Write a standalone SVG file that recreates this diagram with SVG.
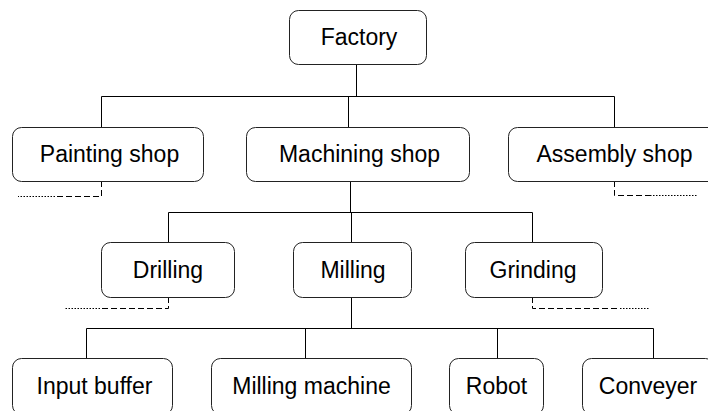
<svg xmlns="http://www.w3.org/2000/svg" width="708" height="411" viewBox="0 0 708 411">
<style>
.box{fill:#fff;stroke:#222;stroke-width:1}
.lbl{font-family:"Liberation Sans",Arial,sans-serif;font-size:23px;fill:#000;text-anchor:middle}
.ln{stroke:#000;stroke-width:1;fill:none}
.dash{stroke:#000;stroke-width:1;fill:none;stroke-dasharray:6 3}
.dot{stroke:#000;stroke-width:1;fill:none;stroke-dasharray:1.5 1.5}
</style>
<rect width="708" height="411" fill="#fff"/>
<g id="connectors">
<path class="ln" d="M356.5 64V96.5M101.5 96.5H614.5M101.5 96.5V127M348.5 96.5V127M614.5 96.5V127"/>
<path class="ln" d="M350.5 181V212.5M168.5 212.5H532.5M168.5 212.5V242M351.5 212.5V242M532.5 212.5V242"/>
<path class="ln" d="M351.5 297V328.5M86.5 328.5H653.5M86.5 328.5V358M305.5 328.5V358M497.5 328.5V358M653.5 328.5V358"/>
<path class="ln" d="M305 328.5H352" stroke-width="2"/>
<path class="dash" d="M101.5 181V196.5H55"/>
<path class="dot" d="M55 196.5H18"/>
<path class="dash" d="M614.5 181V195.5H650"/>
<path class="dot" d="M650 195.5H697"/>
<path class="dash" d="M168.5 297V308.5H100"/>
<path class="dot" d="M100 308.5H65"/>
<path class="dash" d="M532.5 297V308.5H620"/>
<path class="dot" d="M620 308.5H650"/>
</g>
<g id="factory"><rect class="box" x="289.5" y="10.5" width="137" height="54" rx="9"/><text class="lbl" x="359" y="45">Factory</text></g>
<g id="painting-shop"><rect class="box" x="12.5" y="127.5" width="191" height="54" rx="9"/><text class="lbl" x="109.5" y="162">Painting shop</text></g>
<g id="machining-shop"><rect class="box" x="246.5" y="127.5" width="223" height="54" rx="9"/><text class="lbl" x="359.5" y="162">Machining shop</text></g>
<g id="assembly-shop"><rect class="box" x="508.5" y="127.5" width="213" height="54" rx="9"/><text class="lbl" x="614.5" y="162">Assembly shop</text></g>
<g id="drilling"><rect class="box" x="101.5" y="242.5" width="133" height="55" rx="9"/><text class="lbl" x="168" y="278">Drilling</text></g>
<g id="milling"><rect class="box" x="293.5" y="242.5" width="118" height="55" rx="9"/><text class="lbl" x="353" y="278">Milling</text></g>
<g id="grinding"><rect class="box" x="465.5" y="242.5" width="137" height="55" rx="9"/><text class="lbl" x="533" y="278">Grinding</text></g>
<g id="input-buffer"><rect class="box" x="12.5" y="358.5" width="160" height="56" rx="9"/><text class="lbl" x="94.5" y="394">Input buffer</text></g>
<g id="milling-machine"><rect class="box" x="211.5" y="358.5" width="200" height="56" rx="9"/><text class="lbl" x="311.5" y="394">Milling machine</text></g>
<g id="robot"><rect class="box" x="449.5" y="358.5" width="94" height="56" rx="9"/><text class="lbl" x="496.5" y="394">Robot</text></g>
<g id="conveyer"><rect class="box" x="582.5" y="358.5" width="132" height="56" rx="9"/><text class="lbl" x="648" y="394">Conveyer</text></g>
</svg>
